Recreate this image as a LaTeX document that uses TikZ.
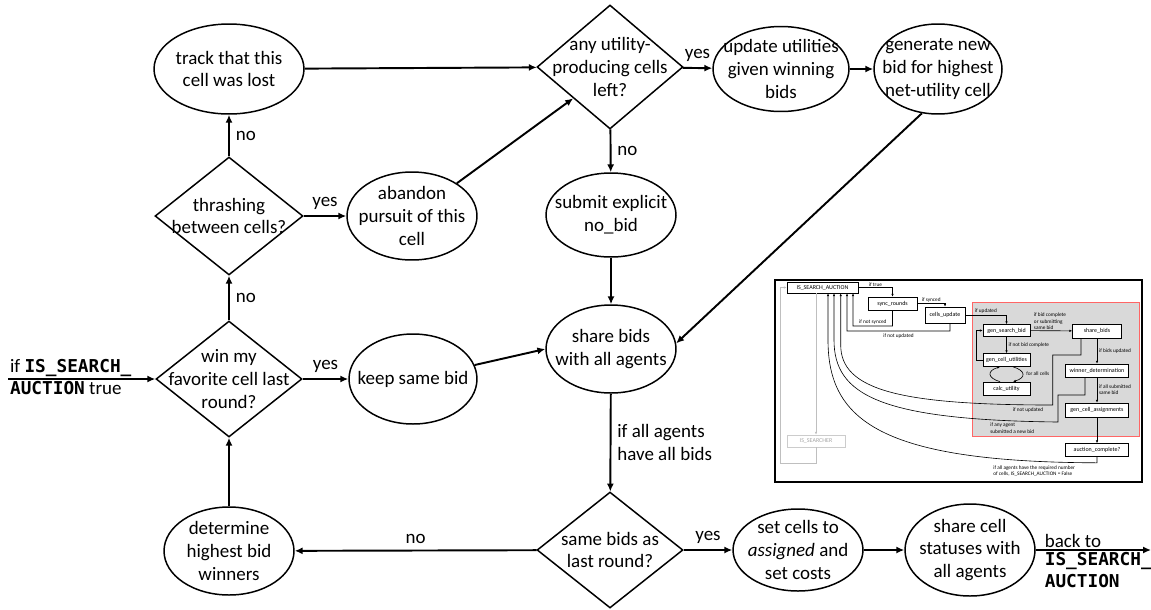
\documentclass[tikz,border=0pt]{standalone}
\usepackage{fontspec}
\setmainfont{Carlito}
\newfontfamily\codefont{DejaVu Sans Mono}
\usetikzlibrary{shapes.geometric,arrows.meta}
\newcommand{\kw}[1]{{\codefont\bfseries\fontsize{10.1}{12.9}\selectfont #1}}

\begin{document}
\begin{tikzpicture}[x=0.02cm,y=-0.02cm,
  >={Latex[length=4.5pt,width=4pt]},
  every node/.style={font=\fontsize{10.8}{12.9}\selectfont},
  bub/.style={draw,ellipse,line width=0.85pt,inner sep=0pt,minimum width=2.6cm},
  dia/.style={draw,diamond,line width=0.85pt,inner sep=0pt,minimum width=2.92cm,minimum height=2.32cm},
  txt/.style={align=center},
  flow/.style={->,line width=1.1pt},
  ibox/.style={draw,fill=white,line width=0.35pt,inner sep=0pt,font=\fontsize{3.4}{3.9}\selectfont},
  note/.style={font=\fontsize{3}{3.6}\selectfont,inner sep=0pt},
  wire/.style={->,line width=0.35pt,>={Latex[length=1.6pt,width=1.4pt]}}]
  \useasboundingbox (0,0) rectangle (1151,609);

  \node [bub, minimum width=3cm, minimum height=1.8cm, label={[txt]center:track that this\\cell was lost}] (track) at (229,69) {};
  \node [dia, minimum height=2.48cm, label={[txt]center:any utility-\\producing cells\\left?}] (anyu) at (610,67) {};
  \node [bub, minimum width=2.72cm, minimum height=1.7cm, label={[txt]center:update utilities\\given winning\\bids}] (update) at (781,69) {};
  \node [bub, minimum width=2.56cm, minimum height=1.8cm, label={[txt]center:generate new\\bid for highest\\net-utility cell}] (gen) at (938,69) {};

  \node [dia, minimum width=2.96cm, minimum height=2.36cm, label={[txt]center:thrashing\\between cells?}] (thrash) at (229,216) {};
  \node [bub, minimum height=1.76cm, label={[txt]center:abandon\\pursuit of this\\cell}] (abandon) at (412,216) {};
  \node [bub, minimum height=1.68cm, label={[txt]center:submit explicit\\no\_bid}] (submit) at (611,215) {};

  \node [dia, label={[txt]center:win my\\favorite cell last\\round?}] (winmy) at (229,379) {};
  \node [bub, minimum width=2.56cm, minimum height=1.8cm, label={[txt]center:keep same bid}] (keep) at (413,379) {};
  \node [bub, minimum height=1.76cm, label={[txt]center:share bids\\with all agents}] (share) at (611,349) {};

  \node [bub, minimum height=1.76cm, label={[txt]center:determine\\highest bid\\winners}] (determine) at (229,551) {};
  \node [dia, label={[txt]center:same bids as\\last round?}] (same) at (610,550) {};
  \node [bub, minimum height=1.64cm, label={[txt]center:set cells to\\\textit{assigned} and\\set costs}] (setc) at (798,550) {};
  \node [bub, minimum height=1.84cm, label={[txt]center:share cell\\statuses with\\all agents}] (sharec) at (970,550) {};

  \coordinate (entry) at (8,379);
  \coordinate (exit) at (1151,550);
  \draw [flow] (entry) -- (winmy);
  \node [anchor=south west, inner sep=1pt] (entrya) at (entry) {if \kw{IS\_SEARCH\_}};
  \node [anchor=north west, inner sep=1pt] (entryb) at (entry) {\kw{AUCTION} true};
  \draw [flow] (winmy) -- (thrash) node [midway, right] {no};
  \draw [flow] (thrash) -- (track) node [midway, right] {no};
  \draw [flow] (thrash) -- (abandon) node [midway, above] {yes};
  \draw [flow] (abandon) -- (anyu.south west);
  \draw [flow] (track) -- (anyu);
  \draw [flow] (anyu) -- (update) node [midway, above] {yes};
  \draw [flow] (update) -- (gen);
  \draw [flow] (gen.250) -- (share.5);
  \draw [flow] (anyu) -- (submit) node [midway, right] {no};
  \draw [flow] (submit) -- (share);
  \draw [flow] (winmy) -- (keep) node [midway, above] {yes};
  \draw [flow] (keep) -- (share.west);
  \draw [flow] (share) -- (same) node [midway, right, align=left] {if all agents\\have all bids};
  \draw [flow] (same) -- (determine) node [midway, above] {no};
  \draw [flow] (determine) -- (winmy);
  \draw [flow] (same) -- (setc) node [midway, above] {yes};
  \draw [flow] (setc) -- (sharec);
  \draw [flow] (sharec) -- (exit);
  \node [anchor=south west, inner sep=1pt] (backa) at ([xshift=0.14cm]sharec.east) {back to};
  \node [anchor=north west, inner sep=1pt, align=left] (backb) at ([xshift=0.14cm]sharec.east) {\kw{IS\_SEARCH\_}\\\kw{AUCTION}};

  \draw [line width=0.8pt] (775,280) rectangle (1142,482);
  \draw [red!60, fill=black!15, line width=0.5pt] (972,302) rectangle (1139,436);
  \node [ibox, minimum width=1.42cm, minimum height=0.22cm] (isa) at (822.5,287.5) {IS\_SEARCH\_AUCTION};
  \node [ibox, minimum width=0.98cm, minimum height=0.26cm] (sync) at (892.5,303.5) {sync\_rounds};
  \node [ibox, minimum width=0.8cm, minimum height=0.32cm] (cellsu) at (945,315) {cells\_update};
  \node [ibox, minimum width=0.94cm, minimum height=0.24cm] (gsb) at (1006.5,330.5) {gen\_search\_bid};
  \node [ibox, minimum width=0.98cm, minimum height=0.28cm] (shb) at (1097,331) {share\_bids};
  \node [ibox, minimum width=0.94cm, minimum height=0.26cm] (gcu) at (1006.5,360) {gen\_cell\_utilities};
  \node [ibox, minimum width=0.94cm, minimum height=0.26cm] (calc) at (1006.5,388.5) {calc\_utility};
  \node [ibox, minimum width=1.26cm, minimum height=0.26cm] (wd) at (1097,370.5) {winner\_determination};
  \node [ibox, minimum width=1.26cm, minimum height=0.28cm] (gca) at (1097,410) {gen\_cell\_assignments};
  \node [ibox, minimum width=1.26cm, minimum height=0.26cm] (ac) at (1097,450) {auction\_complete?};
  \node [ibox, draw=black!20, text=black!35, minimum width=1.16cm, minimum height=0.24cm] (iss) at (816,441) {IS\_SEARCHER};

  \draw [wire, black!25] (isa.south -| iss) -- (iss);
  \draw [wire, black!25] (iss.south) |- (780,463) |- (isa.west);
  \draw [wire] (isa.east) -| (sync.north) node [pos=0.25, above=0.5pt, note] {if true};
  \draw [wire] (sync.east) -| (cellsu.north) node [pos=0.25, above=0.5pt, note] {if synced};
  \draw [wire] (sync.south) |- (853,326) node [pos=0.75, above=0.5pt, note] {if not synced} -- ([xshift=0.61cm]isa.south);
  \draw [wire] ([xshift=0.1cm]cellsu.south) |- (847,331) node [pos=0.75, below=1.5pt, note] {if not updated} -- ([xshift=0.49cm]isa.south);
  \draw [wire] (cellsu.east) -| (gsb.north) node [pos=0.25, above=0.5pt, note] {if updated};
  \draw [wire] (gsb) -- (shb) node [pos=0.08, anchor=south west, note, align=left, yshift=0.5pt] {if bid complete\\or submitting\\same bid};
  \draw [wire] (gsb) -- (gcu) node [midway, right=1pt, note] {if not bid complete};
  \draw [wire] (gcu.west) -- ++(-6.5,0) |- (gsb.west);
  \draw [wire] ([xshift=0.13cm]gcu.south) .. controls +(13,4) and +(13,-4) .. ([xshift=0.13cm]calc.north);
  \draw [wire] ([xshift=-0.13cm]calc.north) .. controls +(-13,-4) and +(-13,4) .. ([xshift=-0.13cm]gcu.south);
  \node [note, anchor=west] (forall) at (1026,374) {for all cells};
  \draw [wire] (shb) -- (wd) node [midway, right=1pt, note] {if bids updated};
  \draw [wire] (wd) -- (gca) node [midway, right=1pt, note, align=left] {if all submitted\\same bid};
  \draw [wire] (gca) -- (ac);
  \draw [wire] ([xshift=-0.32cm]shb.south) |- (1052.7,355) -- (1052.7,405) .. controls (900,405) and (840.7,390) .. (840.7,345) -- ([xshift=0.364cm]isa.south);
  \node [note, anchor=north] (notupd) at (1028,407) {if not updated};
  \draw [wire] ([xshift=-0.24cm]wd.south) |- (1058,395) -- (1058,422) .. controls (880,420) and (834,395) .. (834,340) -- ([xshift=0.23cm]isa.south);
  \node [note, anchor=north west, align=left] (anynew) at (990,423) {if any agent\\submitted a new bid};
  \draw [wire] (ac.south) -- ++(0,6) .. controls (880,462) and (828,420) .. (828,340) -- ([xshift=0.11cm]isa.south);
  \node [note, anchor=north west, align=left] (allreq) at (993,465) {if all agents have the required number\\of cells, IS\_SEARCH\_AUCTION = False};
\end{tikzpicture}
\end{document}
